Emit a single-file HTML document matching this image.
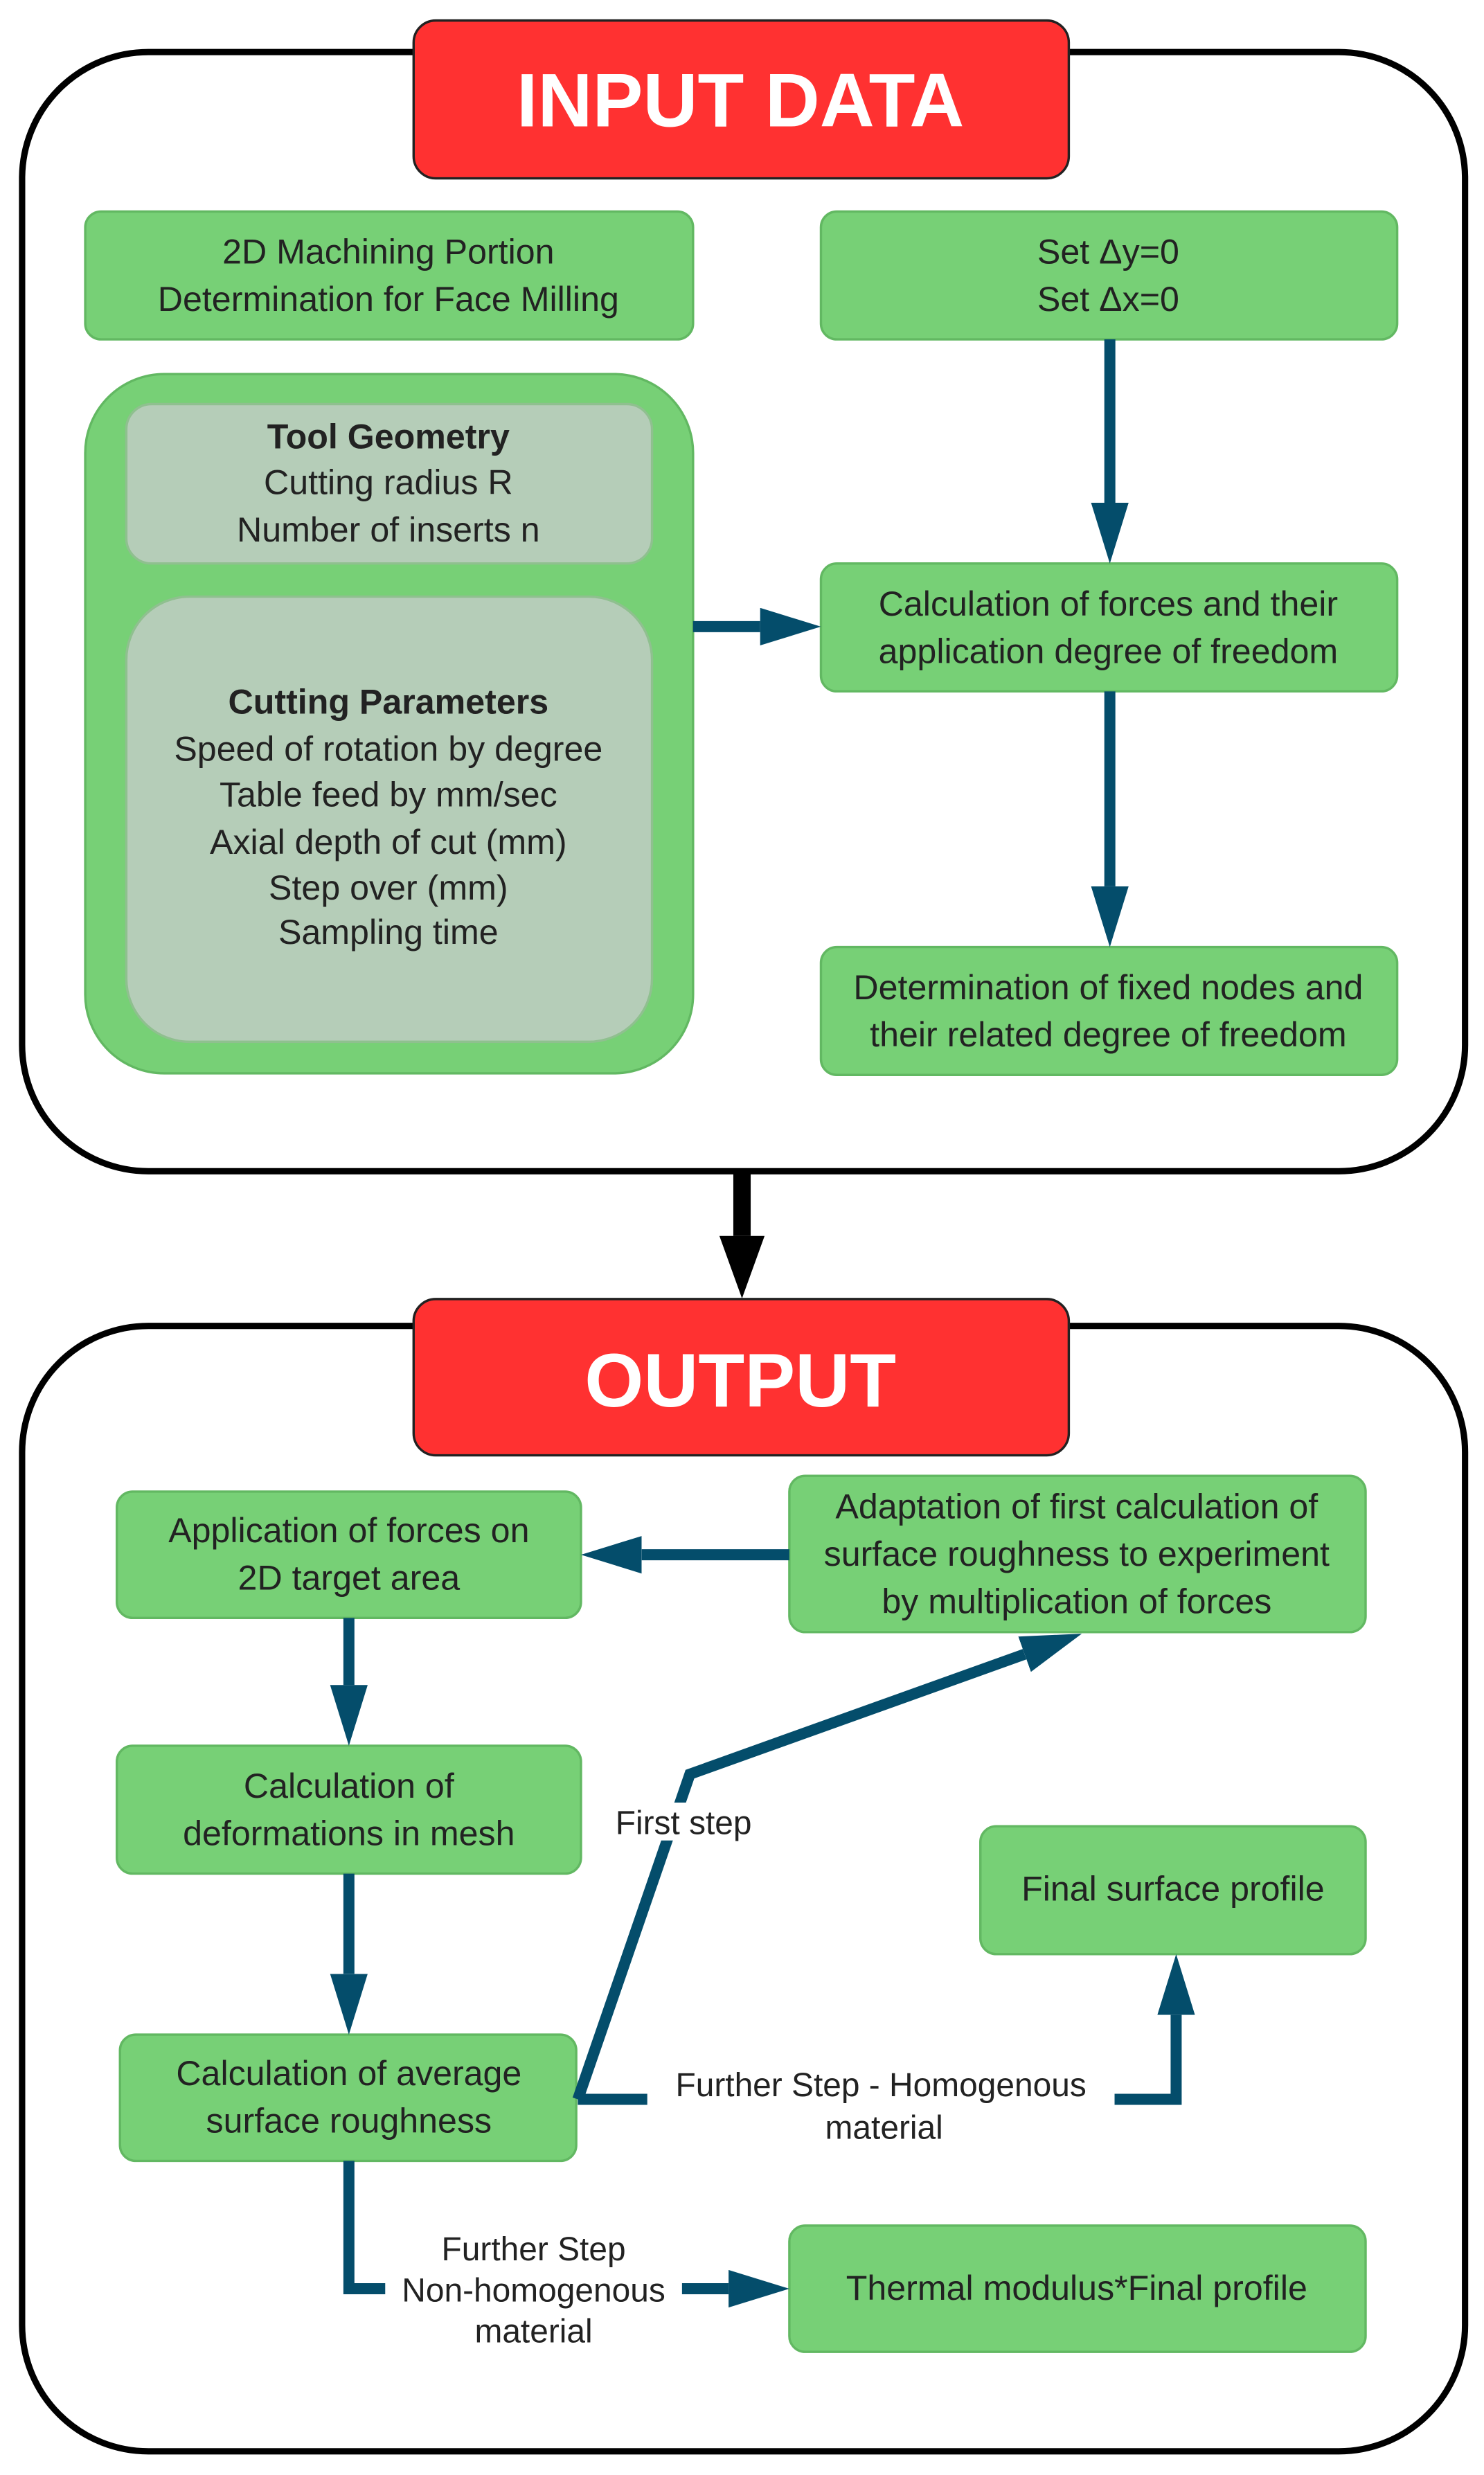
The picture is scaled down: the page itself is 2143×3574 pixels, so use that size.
<!DOCTYPE html>
<html><head><meta charset="utf-8"><style>
html,body{margin:0;padding:0;background:#fff;}
svg{display:block;}
text{font-family:"Liberation Sans",sans-serif;fill:#222;}
</style></head><body>
<svg width="2143" height="3574" viewBox="0 0 940 1568" preserveAspectRatio="none" xmlns="http://www.w3.org/2000/svg">
<defs>
<marker id="h" markerWidth="6" markerHeight="4" refX="0" refY="1.7" orient="auto" markerUnits="strokeWidth"><path d="M0,0 L5.5,1.7 L0,3.4 Z" fill="#044d6b"/></marker>
<marker id="hb" markerWidth="4" markerHeight="3" refX="0" refY="1.3" orient="auto" markerUnits="strokeWidth"><path d="M0,0 L3.6,1.3 L0,2.6 Z" fill="#000"/></marker>
</defs>
<g fill="none" stroke="#000" stroke-width="4">
<rect x="14" y="33" width="914" height="709" rx="80"/>
<rect x="14" y="840" width="914" height="713" rx="80"/>
</g>
<line x1="470" y1="742" x2="470" y2="783" stroke="#000" stroke-width="11" marker-end="url(#hb)"/>
<g fill="#ff3131" stroke="#222" stroke-width="1.5">
<rect x="262" y="13" width="415" height="100" rx="14"/>
<rect x="262" y="823" width="415" height="99" rx="14"/>
</g>
<text x="469" y="80" font-size="48" font-weight="bold" text-anchor="middle" style="fill:#fff">INPUT DATA</text>
<text x="469" y="891" font-size="48" font-weight="bold" text-anchor="middle" style="fill:#fff">OUTPUT</text>
<g fill="#77d076" stroke="#62b862" stroke-width="1.5">
<rect x="54" y="134" width="385" height="81" rx="10"/>
<rect x="520" y="134" width="365" height="81" rx="10"/>
<rect x="54" y="237" width="385" height="443" rx="50"/>
<rect x="520" y="357" width="365" height="81" rx="10"/>
<rect x="520" y="600" width="365" height="81" rx="10"/>
<rect x="74" y="945" width="294" height="80" rx="10"/>
<rect x="500" y="935" width="365" height="99" rx="10"/>
<rect x="74" y="1106" width="294" height="81" rx="10"/>
<rect x="76" y="1289" width="289" height="80" rx="10"/>
<rect x="621" y="1157" width="244" height="81" rx="10"/>
<rect x="500" y="1410" width="365" height="80" rx="10"/>
</g>
<g fill="#b5cdb8" stroke="#8fc08f" stroke-width="1.5">
<rect x="80" y="256" width="333" height="101" rx="16"/>
<rect x="80" y="378" width="333" height="282" rx="40"/>
</g>
<g stroke="#044d6b" stroke-width="7" fill="none" stroke-linejoin="miter">
<line x1="703" y1="215" x2="703" y2="318.5" marker-end="url(#h)"/>
<line x1="703" y1="438" x2="703" y2="561.5" marker-end="url(#h)"/>
<line x1="439" y1="397" x2="481.5" y2="397" marker-end="url(#h)"/>
<line x1="500" y1="985" x2="406.5" y2="985" marker-end="url(#h)"/>
<line x1="221" y1="1025" x2="221" y2="1067.5" marker-end="url(#h)"/>
<line x1="221" y1="1187" x2="221" y2="1250.5" marker-end="url(#h)"/>
<polyline points="366,1330 437,1124 649,1048" marker-end="url(#h)"/>
<polyline points="366,1330 745,1330 745,1276.5" marker-end="url(#h)"/>
<polyline points="221,1369 221,1450 461.5,1450" marker-end="url(#h)"/>
</g>
<g font-size="21" text-anchor="middle">
<rect x="386" y="1142" width="96" height="24" fill="#fff"/>
<text x="433" y="1162">First step</text>
<rect x="410" y="1306" width="296" height="52" fill="#fff"/>
<text x="558" y="1328">Further Step - Homogenous</text>
<text x="560" y="1355">material</text>
<rect x="244" y="1410" width="188" height="78" fill="#fff"/>
<text x="338" y="1432">Further Step</text>
<text x="338" y="1458">Non-homogenous</text>
<text x="338" y="1484">material</text>
</g>
<g font-size="22" text-anchor="middle">
<text x="246" y="167">2D Machining Portion</text>
<text x="246" y="197">Determination for Face Milling</text>
<text x="702" y="167">Set Δy=0</text>
<text x="702" y="197">Set Δx=0</text>
<text x="246" y="284" font-weight="bold">Tool Geometry</text>
<text x="246" y="313">Cutting radius R</text>
<text x="246" y="343">Number of inserts n</text>
<text x="246" y="452" font-weight="bold">Cutting Parameters</text>
<text x="246" y="482">Speed of rotation by degree</text>
<text x="246" y="511">Table feed by mm/sec</text>
<text x="246" y="541">Axial depth of cut (mm)</text>
<text x="246" y="570">Step over (mm)</text>
<text x="246" y="598">Sampling time</text>
<text x="702" y="390">Calculation of forces and their</text>
<text x="702" y="420">application degree of freedom</text>
<text x="702" y="633">Determination of fixed nodes and</text>
<text x="702" y="663">their related degree of freedom</text>
<text x="221" y="977">Application of forces on</text>
<text x="221" y="1007">2D target area</text>
<text x="682" y="962">Adaptation of first calculation of</text>
<text x="682" y="992">surface roughness to experiment</text>
<text x="682" y="1022">by multiplication of forces</text>
<text x="221" y="1139">Calculation of</text>
<text x="221" y="1169">deformations in mesh</text>
<text x="221" y="1321">Calculation of average</text>
<text x="221" y="1351">surface roughness</text>
<text x="743" y="1204">Final surface profile</text>
<text x="682" y="1457">Thermal modulus*Final profile</text>
</g>
</svg>
</body></html>
